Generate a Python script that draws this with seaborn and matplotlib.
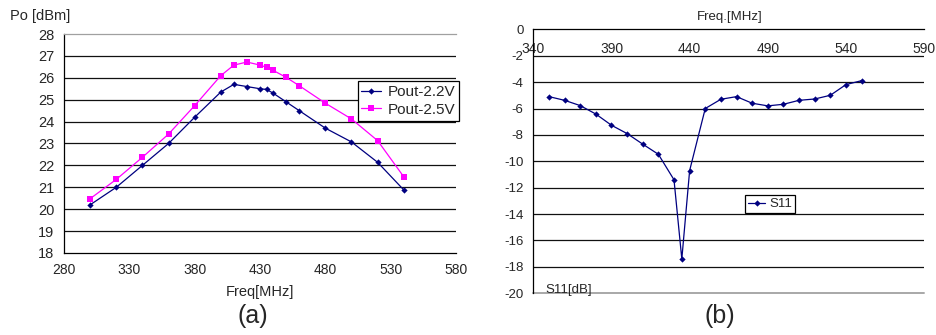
import matplotlib
matplotlib.use("Agg")
import matplotlib.pyplot as plt
import seaborn as sns
import pandas as pd

# ---- data ----
freq_a = [300, 320, 340, 360, 380, 400, 410, 420, 430, 435, 440, 450, 460, 480, 500, 520, 540]
pout_22 = [20.2, 21.0, 22.0, 23.0, 24.2, 25.35, 25.7, 25.6, 25.5, 25.47, 25.3, 24.9, 24.5, 23.7, 23.07, 22.14, 20.88]
pout_25 = [20.48, 21.36, 22.37, 23.43, 24.73, 26.1, 26.58, 26.72, 26.58, 26.48, 26.34, 26.02, 25.64, 24.84, 24.12, 23.13, 21.48]

freq_b = [350, 360, 370, 380, 390, 400, 410, 420, 430, 435, 440, 450, 460, 470, 480, 490, 500, 510, 520, 530, 540, 550]
s11 = [-5.1, -5.38, -5.78, -6.42, -7.27, -7.9, -8.7, -9.47, -11.4, -17.4, -10.7, -6.0, -5.3, -5.1, -5.6, -5.8, -5.68, -5.38, -5.28, -5.0, -4.19, -3.89]

xticks_a = [280, 330, 380, 430, 480, 530, 580]
yticks_a = list(range(18, 29))
xticks_b = [340, 390, 440, 490, 540, 590]
yticks_b = list(range(-20, 1, 2))

sns.set_style("white")
plt.rcParams['font.family'] = ['Liberation Sans', 'DejaVu Sans']

NAVY = "#000080"
MAG = "#FF00FF"

fig = plt.figure(figsize=(9.37, 3.35), dpi=100)
fig.patch.set_facecolor("white")

# ---------- (a) ----------
ax1 = fig.add_axes([0.0683, 0.2448, 0.4184, 0.6537])
df_a = pd.DataFrame({"freq": freq_a, "p22": pout_22, "p25": pout_25})
sns.lineplot(data=df_a, x="freq", y="p22", ax=ax1, color=NAVY, marker="D",
             markersize=3.2, markeredgewidth=0, linewidth=0.9, label="Pout-2.2V", sort=False)
sns.lineplot(data=df_a, x="freq", y="p25", ax=ax1, color=MAG, marker="s",
             markersize=3.8, markeredgewidth=0, linewidth=0.9, label="Pout-2.5V", sort=False)
ax1.set_xlim(280, 580)
ax1.set_ylim(18, 28)
ax1.set_xticks(xticks_a)
ax1.set_yticks(yticks_a)
ax1.set_xticklabels([str(t) for t in xticks_a], fontsize=10)
ax1.set_yticklabels([str(t) for t in yticks_a], fontsize=10.5)
for y in yticks_a[1:-1]:
    ax1.axhline(y, color="#111111", linewidth=0.9, zorder=0)
ax1.spines['right'].set_visible(False)
ax1.spines['top'].set_color("#a0a0a0")
ax1.spines['left'].set_color("black")
ax1.spines['bottom'].set_color("black")
for s in ax1.spines.values():
    s.set_linewidth(0.9)
ax1.tick_params(axis='both', direction='out', length=4, width=0.9, color='black', pad=3)
ax1.set_xlabel("")
ax1.set_ylabel("")
fig.text(10 / 937, 1 - 16 / 335, "Po [dBm]", fontsize=10.5, ha="left", va="center")
fig.text(260 / 937, 1 - 292 / 335, "Freq[MHz]", fontsize=10.5, ha="center", va="center")
fig.text(253 / 937, 1 - 316 / 335, "(a)", fontsize=18, ha="center", va="center")
leg1 = ax1.legend(loc="upper right", bbox_to_anchor=(1.007, 0.785), fontsize=11,
                  frameon=True, fancybox=False, framealpha=1, edgecolor="black",
                  handlelength=1.3, handletextpad=0.4, borderpad=0.25, labelspacing=0.25,
                  borderaxespad=0)
leg1.get_frame().set_linewidth(0.9)

# ---------- (b) ----------
ax2 = fig.add_axes([0.5692, 0.1245, 0.417, 0.788])
df_b = pd.DataFrame({"freq": freq_b, "s11": s11})
sns.lineplot(data=df_b, x="freq", y="s11", ax=ax2, color=NAVY, marker="D",
             markersize=3.2, markeredgewidth=0, linewidth=0.9, label="S11", sort=False)
ax2.set_xlim(340, 590)
ax2.set_ylim(-20, 0)
ax2.set_xticks(xticks_b)
ax2.set_yticks(yticks_b)
ax2.set_xticklabels([str(t) for t in xticks_b], fontsize=9.5)
ax2.set_yticklabels([str(t) for t in yticks_b], fontsize=9.5)
for y in yticks_b[1:-1]:
    ax2.axhline(y, color="#111111", linewidth=0.9, zorder=0)
ax2.axhline(-20, color="#a8a8a8", linewidth=1.4, zorder=0, clip_on=False)
ax2.spines['bottom'].set_position(('data', 0))
ax2.spines['top'].set_visible(False)
ax2.spines['right'].set_visible(False)
ax2.spines['left'].set_color("black")
ax2.spines['bottom'].set_color("black")
for s in ax2.spines.values():
    s.set_linewidth(0.9)
ax2.tick_params(axis='x', direction='inout', length=6, width=0.9, color='black', pad=6)
ax2.tick_params(axis='y', direction='out', length=4, width=0.9, color='black', pad=3)
ax2.set_xlabel("")
ax2.set_ylabel("")
ax2.text(0.032, -19.75, "S11[dB]", fontsize=9.5, ha="left", va="center",
         transform=ax2.get_yaxis_transform())
fig.text(730 / 937, 1 - 17 / 335, "Freq.[MHz]", fontsize=9.5, ha="center", va="center")
fig.text(720 / 937, 1 - 316 / 335, "(b)", fontsize=18, ha="center", va="center")
leg2 = ax2.legend(loc="center", bbox_to_anchor=(0.606, 0.338), fontsize=9.5,
                  frameon=True, fancybox=False, framealpha=1, edgecolor="black",
                  handlelength=1.3, handletextpad=0.3, borderpad=0.2, borderaxespad=0)
leg2.get_frame().set_linewidth(0.9)

fig.savefig("out.png", dpi=100, facecolor="white")
